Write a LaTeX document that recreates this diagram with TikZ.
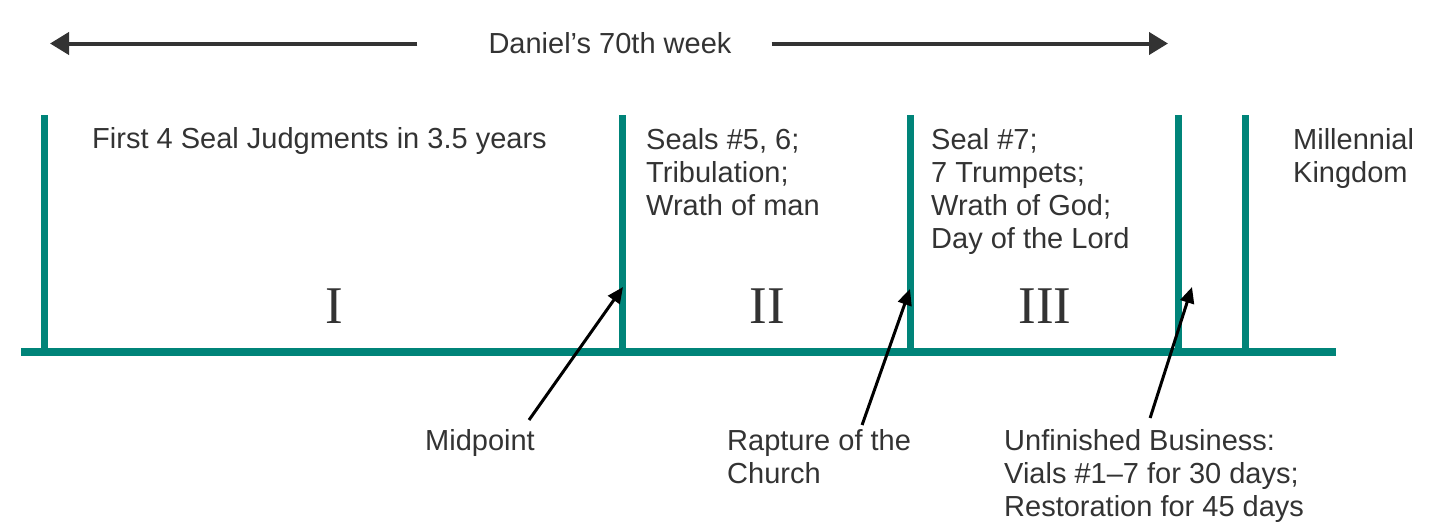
\documentclass[tikz,border=0pt]{standalone}
\usepackage{fontspec}
\setmainfont{Liberation Sans}
\newfontfamily\romanfont{Liberation Serif}
\usetikzlibrary{arrows.meta}

\begin{document}
\begin{tikzpicture}[x=1pt, y=-1pt,
    post/.style={line width=7pt, draw=weekteal},
    note/.style={anchor=north west, inner sep=0pt, align=left, text=inkgray,
      font=\fontsize{29}{33}\selectfont},
    numeral/.style={anchor=base, inner sep=0pt, text=inkgray,
      font=\romanfont\fontsize{53}{60}\selectfont},
    span/.style={-{Triangle[length=19pt,width=22pt]}, line width=4pt, inkgray},
    pointer/.style={-{Triangle[length=16pt,width=14pt]}, line width=3pt, black}]
    \definecolor{weekteal}{RGB}{0,132,121}
    \definecolor{inkgray}{RGB}{51,51,51}

    \useasboundingbox (0,0) rectangle (1430,528);

    % time line and the five posts
    \draw[line width=8pt, weekteal] (21,352) -- (1336,352);
    \foreach \x in {44,622,910,1178,1245}
      \draw[post] (\x,115) -- (\x,352);

    % title, with the arrows spanning the week
    \node[inner sep=0pt, text=inkgray, font=\fontsize{29}{33}\selectfont]
      (week) at (610,43.5) {Daniel’s 70th week};
    \coordinate (weekleft) at (50,43.5);
    \coordinate (weekright) at (1168,43.5);
    \draw[span, shorten <=71pt] (week) -- (weekleft);
    \draw[span, shorten <=40pt] (week) -- (weekright);

    % what happens in each part
    \node[note] (firstseals) at (92,127) {First 4 Seal Judgments in 3.5 years};
    \node[note] (sealsfive) at (646,128) {Seals \#5, 6;\\Tribulation;\\Wrath of man};
    \node[note] (sealseven) at (931,128) {Seal \#7;\\7 Trumpets;\\Wrath of God;\\Day of the Lord};
    \node[note] (kingdom) at (1293,128) {Millennial\\Kingdom};

    \node[numeral] (partone) at (334,323) {I};
    \node[numeral] (parttwo) at (767,323) {II};
    \node[numeral] (partthree) at (1045,323) {III};

    % events under the line
    \node[note] (midpoint) at (425,429) {Midpoint};
    \node[note] (rapture) at (727,429) {Rapture of the\\Church};
    \node[note] (unfinished) at (1004,429) {Unfinished Business:\\Vials \#1--7 for 30 days;\\Restoration for 45 days};

    \coordinate (midtip) at (623,287);
    \coordinate (raptip) at (910,289);
    \coordinate (endtip) at (1192,287);
    \draw[pointer] ([shift={(-6,-9)}]midpoint.north east) -- (midtip);
    \draw[pointer] ([shift={(43,-4)}]rapture.north) -- (raptip);
    \draw[pointer] ([shift={(-4,-11)}]unfinished.north) -- (endtip);
\end{tikzpicture}
\end{document}
